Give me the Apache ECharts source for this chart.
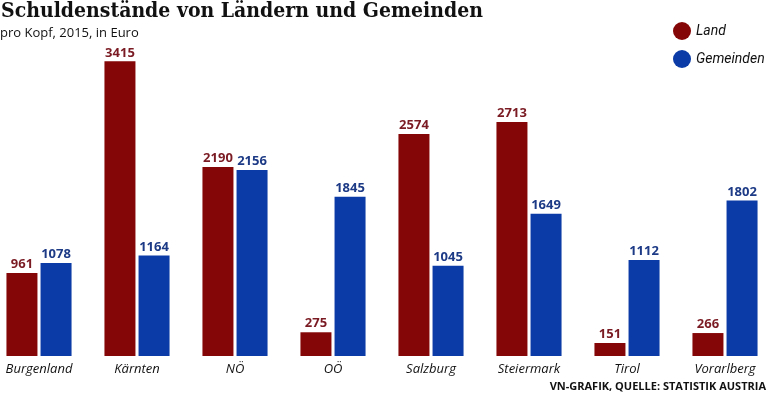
<!DOCTYPE html>
<html><head><meta charset="utf-8">
<script src="https://cdn.jsdelivr.net/npm/echarts@6/dist/echarts.min.js"></script>
<style>html,body{margin:0;padding:0;background:#fff}#c{width:768px;height:394px}</style>
</head><body><div id="c"></div>
<script>
const categories = ['Burgenland','Kärnten','NÖ','OÖ','Salzburg','Steiermark','Tirol','Vorarlberg'];
const landValues = [961,3415,2190,275,2574,2713,151,266];
const gemeindenValues = [1078,1164,2156,1845,1045,1649,1112,1802];
const seriesNames = ['Land','Gemeinden'];
const RED = '#850606', BLUE = '#0b3ba6';
const chart = echarts.init(document.getElementById('c'));
chart.setOption({
  animation:false,
  title:[
    {text:'Schuldenstände von Ländern und Gemeinden', left:-4, top:-4,
     textStyle:{fontFamily:'"DejaVu Serif Condensed", "Liberation Serif"', fontWeight:'bold', fontSize:21, color:'#111'}},
    {text:'pro Kopf, 2015, in Euro', left:-5, top:22,
     textStyle:{fontFamily:'Open Sans', fontWeight:'normal', fontSize:13, color:'#111'}},
    {text:'VN-GRAFIK, QUELLE: STATISTIK AUSTRIA', right:-3, top:376,
     textStyle:{fontFamily:'Open Sans', fontWeight:'bold', fontSize:11, color:'#111'}}
  ],
  legend:{orient:'vertical', left:668, top:17, itemGap:10, itemWidth:18, itemHeight:18, icon:'circle',
    data:seriesNames,
    textStyle:{fontFamily:'Roboto', fontStyle:'italic', fontSize:14, color:'#111'}},
  grid:{left:-10, right:-6, top:54, bottom:38, outerBoundsMode:'none', containLabel:false},
  xAxis:{type:'category', data:categories,
    axisLine:{show:false}, axisTick:{show:false},
    axisLabel:{interval:0, margin:7, fontFamily:'Open Sans', fontStyle:'italic', fontSize:13, color:'#111'}},
  yAxis:{type:'value', min:0, max:3500, show:false, splitLine:{show:false}},
  series:[
    {name:'Land', type:'bar', data:landValues, barWidth:31, barGap:'10%', itemStyle:{color:RED},
     label:{show:true, position:'top', distance:2, fontFamily:'Open Sans', fontWeight:'bold', fontSize:13, color:'#7a1a22'}},
    {name:'Gemeinden', type:'bar', data:gemeindenValues, barWidth:31, itemStyle:{color:BLUE},
     label:{show:true, position:'top', distance:2, fontFamily:'Open Sans', fontWeight:'bold', fontSize:13, color:'#1c3a85'}}
  ]
});
</script></body></html>
